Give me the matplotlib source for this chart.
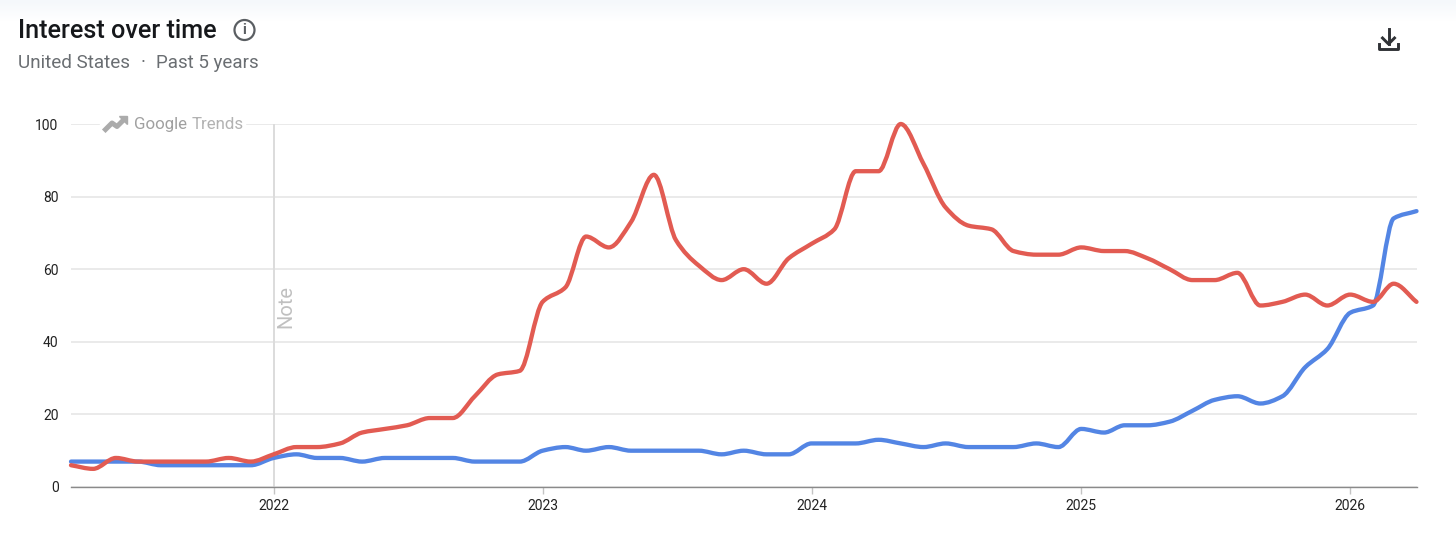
import numpy as np
import pandas as pd
import matplotlib
matplotlib.use('Agg')
import matplotlib.pyplot as plt
import matplotlib.dates as mdates
from matplotlib.path import Path
from matplotlib.patches import PathPatch, Circle

plt.rcParams['font.family'] = ['Roboto', 'DejaVu Sans']

# monthly values, Apr 2021 to Apr 2026
months = pd.date_range('2021-04-01', '2026-04-01', freq='MS')
red_values = [6, 5, 8, 7, 7, 7, 7, 8, 7,
              9, 11, 11, 12, 15, 16, 17, 19, 19, 25, 31, 32,
              51, 55, 69, 66, 73, 86, 68, 61, 57, 60, 56, 63,
              67, 71, 87, 87, 100, 89, 77, 72, 71, 65, 64, 64,
              66, 65, 65, 63, 60, 57, 57, 59, 50, 51, 53, 50,
              53, 51, 56, 51]
blue_values = [7, 7, 7, 7, 6, 6, 6, 6, 6,
               8, 9, 8, 8, 7, 8, 8, 8, 8, 7, 7, 7,
               10, 11, 10, 11, 10, 10, 10, 10, 9, 10, 9, 9,
               12, 12, 12, 13, 12, 11, 12, 11, 11, 11, 12, 11,
               16, 15, 17, 17, 18, 21, 24, 25, 23, 25, 33, 38,
               48, 50, 74, 76]
y_ticks = [0, 20, 40, 60, 80, 100]
year_ticks = [2022, 2023, 2024, 2025, 2026]

RED = '#e25b52'
BLUE = '#5385e4'
GRID = '#e6e6e6'


# monotone cubic curve through the points, like the chart library draws it
def smooth_path(x, y):
    x = np.asarray(x, dtype=float)
    y = np.asarray(y, dtype=float)
    h = np.diff(x)
    s = np.diff(y) / h
    t = np.zeros(len(x))
    for i in range(1, len(x) - 1):
        if s[i - 1] * s[i] > 0:
            t[i] = 2 * s[i - 1] * s[i] / (s[i - 1] + s[i])
    t[0] = s[0]
    t[-1] = s[-1]
    verts = [(x[0], y[0])]
    codes = [Path.MOVETO]
    for i in range(len(h)):
        verts.append((x[i] + h[i] / 3, y[i] + t[i] * h[i] / 3))
        verts.append((x[i + 1] - h[i] / 3, y[i + 1] - t[i + 1] * h[i] / 3))
        verts.append((x[i + 1], y[i + 1]))
        codes += [Path.CURVE4] * 3
    return Path(verts, codes)


fig = plt.figure(figsize=(14.56, 5.49), dpi=100, facecolor='white')

# faint band along the top edge
top = fig.add_axes([0, 1 - 22 / 549, 1, 22 / 549])
top.imshow(np.linspace(0, 1, 22).reshape(-1, 1), aspect='auto', cmap=matplotlib.colors.LinearSegmentedColormap.from_list('b', ['#f5f8fb', '#ffffff']))
top.axis('off')

ax = fig.add_axes([71 / 1456, (549 - 487) / 549, (1416.5 - 71) / 1456, (487 - 124) / 549])
ax.set_facecolor('none')
ax.set_ylim(0, 100)
ax.set_xlim(mdates.date2num(months[0]), mdates.date2num(months[-1]))

x_num = mdates.date2num(months)
for values, color in [(blue_values, BLUE), (red_values, RED)]:
    ax.add_patch(PathPatch(smooth_path(x_num, values), fill=False, edgecolor=color,
                           linewidth=3.1, capstyle='round', joinstyle='round',
                           clip_on=False, zorder=4))

ax.set_yticks(y_ticks)
ax.set_xticks([mdates.date2num(pd.Timestamp(f'{yr}-01-01')) for yr in year_ticks])
ax.set_xticklabels([str(yr) for yr in year_ticks])
ax.grid(axis='y', color=GRID, linewidth=1.2)
ax.set_axisbelow(True)
ax.tick_params(axis='y', length=0, pad=9, labelsize=10, labelcolor='#222222')
ax.tick_params(axis='x', length=5, width=1, color='#c4c4c4', pad=4, labelsize=10, labelcolor='#222222')
for side in ['top', 'left', 'right']:
    ax.spines[side].set_visible(False)
ax.spines['bottom'].set_color('#8a8a8a')
ax.spines['bottom'].set_linewidth(1)

# Note marker
note_x = mdates.date2num(pd.Timestamp('2022-01-01'))
ax.axvline(note_x, color='#dcdcdc', linewidth=1.4, zorder=1)

# overlay in pixel coordinates for header and icons
ov = fig.add_axes([0, 0, 1, 1], zorder=5)
ov.set_xlim(0, 1456)
ov.set_ylim(549, 0)
ov.axis('off')
ov.patch.set_alpha(0)

ov.text(286, 306, 'Note', rotation=90, color='#c0c0c0', fontsize=14.5, ha='center', va='center')

ov.text(18, 37.5, 'Interest over time', fontsize=18.2, color='#16181b', va='baseline', ha='left', fontweight='medium')
ov.text(18, 68.5, 'United States', fontsize=13.6, color='#6a6e72', va='baseline', ha='left')
ov.text(143, 68.5, '·', fontsize=13.6, color='#6a6e72', va='baseline', ha='center')
ov.text(156, 68.5, 'Past 5 years', fontsize=13.5, color='#6a6e72', va='baseline', ha='left')

ov.add_patch(Circle((244.5, 30), 10, fill=False, edgecolor='#5a5e62', linewidth=1.6))
ov.text(244.5, 30.5, 'i', fontsize=10.5, color='#5a5e62', ha='center', va='center', fontweight='bold')

# download icon
ov.plot([1388.5, 1388.5], [29, 44], color='#303236', linewidth=2.1)
ov.plot([1382.5, 1388.5, 1394.5], [38, 44, 38], color='#303236', linewidth=2.1)
ov.plot([1379, 1379, 1398, 1398], [44, 48.5, 48.5, 44], color='#303236', linewidth=2.1)

# Google Trends watermark over the top gridline
ov.fill_between([100, 245], 121, 127, color='white', zorder=1)
ov.plot([105.5, 112, 117, 124], [129.5, 123, 126.5, 119.5], color='#ababab', linewidth=3.6, solid_joinstyle='round', zorder=2)
ov.fill([119, 127, 127], [116, 116, 124], color='#ababab', zorder=2)
ov.text(134, 124.5, 'Google', fontsize=12.2, color='#a0a0a0', va='center', ha='left', zorder=2)
ov.text(192, 124.5, 'Trends', fontsize=12.2, color='#b2b2b2', va='center', ha='left', zorder=2)

fig.savefig('out.png', dpi=100)
